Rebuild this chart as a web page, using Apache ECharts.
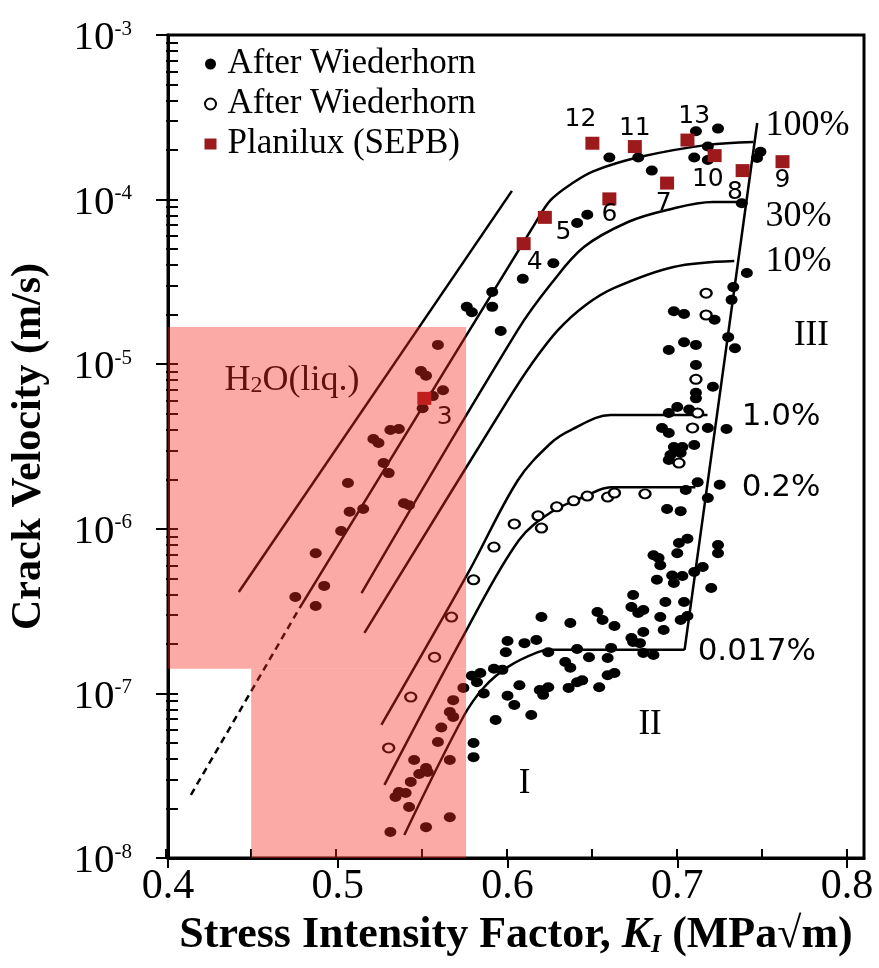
<!DOCTYPE html>
<html>
<head>
<meta charset="utf-8">
<script src="https://cdn.jsdelivr.net/npm/echarts@6/dist/echarts.min.js"></script>
<style>
html,body{margin:0;padding:0;background:#fff}
#chart{width:879px;height:968px}
</style>
</head>
<body>
<div id="chart"></div>
<script>
// crack velocity (m/s) vs K_I (MPa sqrt m)

// After Wiederhorn, filled dots
var filledDots = [
    [0.660,1.8e-4],[0.677,1.8e-4],[0.685,1.5e-4],[0.711,2.6e-4],[0.724,2.7e-4],[0.718,2.1e-4],[0.710,1.8e-4],[0.718,1.74e-4],
    [0.749,1.95e-4],[0.747,1.79e-4],[0.738,9.5e-5],[0.647,8.1e-5],[0.641,7.2e-5],[0.627,4.1e-5],[0.609,3.3e-5],[0.591,2.75e-5],
    [0.591,2.23e-5],[0.596,1.59e-5],[0.741,3.58e-5],[0.733,2.94e-5],[0.732,2.46e-5],[0.698,2.1e-5],[0.704,2.02e-5],[0.722,1.86e-5],
    [0.576,2.23e-5],[0.579,2.07e-5],
    [0.559,1.31e-5],[0.549,9.1e-6],[0.552,8.5e-6],[0.562,6.95e-6],[0.556,6.4e-6],[0.550,5.4e-6],[0.531,3.98e-6],[0.536,4.04e-6],
    [0.521,3.51e-6],[0.524,3.32e-6],[0.527,2.51e-6],[0.530,2.18e-6],[0.506,1.9e-6],[0.507,1.27e-6],[0.515,1.32e-6],[0.502,9.7e-7],
    [0.539,1.43e-6],[0.542,1.39e-6],[0.487,7.1e-7],[0.492,4.5e-7],[0.475,3.85e-7],[0.487,3.4e-7],
    [0.574,1.08e-7],[0.568,9.1e-8],[0.566,7.7e-8],[0.568,7.2e-8],[0.561,6.2e-8],[0.559,5.07e-8],[0.545,3.94e-8],[0.566,3.94e-8],
    [0.552,3.52e-8],[0.553,3.33e-8],[0.548,3.24e-8],[0.543,2.9e-8],[0.536,2.52e-8],[0.540,2.48e-8],[0.534,2.35e-8],[0.542,2.04e-8],
    [0.566,1.77e-8],[0.552,1.54e-8],[0.531,1.44e-8],
    [0.600,2.08e-7],[0.599,1.78e-7],[0.579,1.28e-7],[0.584,1.33e-7],[0.592,1.41e-7],[0.597,1.39e-7],[0.582,1.17e-7],[0.586,1.0e-7],
    [0.600,9.67e-8],[0.604,8.5e-8],[0.593,6.9e-8],[0.580,5.0e-8],[0.580,4.1e-8],[0.607,1.12e-7],[0.610,2.02e-7],[0.617,2.11e-7],
    [0.620,2.91e-7],[0.614,7.4e-8],[0.619,1.05e-7],[0.624,1.09e-7],[0.621,9.8e-8],[0.624,1.78e-7],[0.637,2.68e-7],[0.634,1.55e-7],
    [0.637,1.43e-7],[0.636,1.08e-7],[0.641,1.17e-7],[0.644,1.2e-7],[0.641,1.86e-7],[0.648,1.66e-7],[0.653,3.12e-7],[0.656,2.79e-7],
    [0.663,2.57e-7],[0.661,1.89e-7],[0.659,1.64e-7],[0.659,1.29e-7],[0.663,1.33e-7],[0.654,1.09e-7],[0.674,3.96e-7],[0.673,3.35e-7],
    [0.677,3.08e-7],[0.680,3.21e-7],[0.680,2.36e-7],[0.673,2.17e-7],[0.674,2.05e-7],[0.678,2.02e-7],[0.680,1.76e-7],[0.686,1.71e-7],
    [0.688,4.9e-7],[0.690,6.0e-7],[0.693,3.59e-7],[0.690,2.91e-7],[0.692,2.43e-7],[0.697,5.2e-7],[0.703,5.17e-7],[0.698,4.68e-7],
    [0.704,3.59e-7],[0.702,2.79e-7],[0.706,2.95e-7],[0.710,5.46e-7],[0.715,5.86e-7],[0.720,4.37e-7],
    [0.730,1.46e-5],[0.734,1.25e-5],[0.695,1.22e-5],[0.704,1.36e-5],[0.711,1.31e-5],[0.711,9.9e-6],[0.721,7.3e-6],[0.711,6.7e-6],
    [0.711,6.2e-6],[0.695,5.05e-6],[0.700,5.5e-6],[0.707,5.3e-6],[0.691,4.1e-6],[0.695,3.82e-6],[0.718,4.1e-6],[0.729,4.04e-6],
    [0.698,3.14e-6],[0.703,3.14e-6],[0.710,3.23e-6],[0.696,2.81e-6],[0.702,2.89e-6],[0.695,2.62e-6],[0.712,1.92e-6],[0.725,1.85e-6],
    [0.705,1.72e-6],[0.718,1.54e-6],[0.694,1.32e-6],[0.702,1.28e-6],[0.706,8.7e-7],[0.701,8.2e-7],[0.724,7.97e-7],[0.724,7.1e-7],
    [0.686,6.9e-7],[0.689,6.65e-7],[0.700,7.1e-7]
];

// After Wiederhorn, open circles
var openDots = [
    [0.717,1.99e-5],[0.717,2.7e-5],[0.711,8.1e-6],[0.712,5.05e-6],[0.709,4.1e-6],[0.701,2.51e-6],[0.604,1.07e-6],
    [0.592,7.75e-7],[0.580,4.9e-7],[0.567,2.91e-7],[0.557,1.66e-7],[0.543,9.5e-8],[0.530,4.66e-8],[0.618,1.2e-6],
    [0.620,1.01e-6],[0.629,1.36e-6],[0.639,1.48e-6],[0.647,1.58e-6],[0.659,1.56e-6],[0.663,1.65e-6],[0.681,1.63e-6]
];

// Planilux (SEPB) squares and their numbers
var planiluxPts = [
    [0.650,2.2e-4],[0.675,2.1e-4],[0.706,2.3e-4],[0.722,1.85e-4],[0.7385,1.5e-4],[0.762,1.7e-4],
    [0.694,1.26e-4],[0.660,1.01e-4],[0.622,7.8e-5],[0.6095,5.4e-5],[0.551,6.2e-6]
];
var planiluxNum = ['12','11','13','10','8','9','7','6','5','4','3'];
var planiluxNumPos = [
    [0.643,3.08e-4],[0.675,2.72e-4],[0.710,3.18e-4],[0.718,1.32e-4],[0.734,1.1e-4],[0.762,1.3e-4],
    [0.692,9.5e-5],[0.660,8.1e-5],[0.633,6.3e-5],[0.616,4.17e-5],[0.563,4.77e-6]
];

// curves
var waterLine = [[0.4417,4.13e-7],[0.6026,1.13e-4]];
var dashLine = [[0.4135,2.42e-8],[0.4775,3.3e-7]];
var rh100 = [[0.4775,3.3e-7],[0.6167,7.3e-5],[0.6255,9.95e-5],[0.6373,1.24e-4],[0.6508,1.49e-4],[0.6784,1.82e-4],[0.7178,2.15e-4],[0.7448,2.24e-4]];
var rh30 = [[0.514,4.07e-7],[0.606,1.61e-5],[0.626,3.11e-5],[0.645,5.15e-5],[0.671,7.31e-5],[0.694,8.65e-5],[0.721,9.67e-5],[0.739,9.67e-5]];
var rh10 = [[0.5157,2.33e-7],[0.6003,6.07e-6],[0.6138,9.9e-6],[0.6297,1.61e-5],[0.6461,2.29e-5],[0.6626,2.9e-5],[0.6978,3.9e-5],[0.7336,4.24e-5]];
var rh1 = [[0.5257,6.43e-8],[0.5768,5.39e-7],[0.6062,1.98e-6],[0.6256,3.32e-6],[0.6373,3.98e-6],[0.6608,4.91e-6],[0.7178,4.91e-6]];
var rh02 = [[0.5275,2.78e-8],[0.5768,2.53e-7],[0.6068,8.55e-7],[0.6256,1.26e-6],[0.6449,1.56e-6],[0.6608,1.79e-6],[0.7107,1.79e-6]];
var rh0017 = [[0.5392,1.38e-8],[0.5739,7.19e-8],[0.5862,1.09e-7],[0.6003,1.45e-7],[0.6179,1.78e-7],[0.6256,1.84e-7],[0.7043,1.84e-7]];
var stage3Line = [[0.7043,1.84e-7],[0.7471,2.92e-4]];

// text on the plot
var rhSerif = ['100%','30%','10%'];
var rhSerifPos = [[0.752,2.8e-4],[0.752,7.9e-5],[0.752,4.2e-5]];
var rhSans = ['1.0%','0.2%','0.017%'];
var rhSansPos = [[0.738,4.8e-6],[0.738,1.77e-6],[0.712,1.78e-7]];
var regionNames = ['III','II','I'];
var regionPos = [[0.779,1.49e-5],[0.684,6.4e-8],[0.610,2.82e-8]];
var waterTextPos = [0.473,8.0e-6];

// liquid water zone
var waterBoxX = [0.4, 0.449, 0.5756];
var waterBoxY = [1e-8, 1.41e-7, 1.68e-5];

// ticks
var xMajor = [0.4,0.5,0.6,0.7,0.8];
var xMinor = [0.4,0.45,0.5,0.55,0.6,0.65,0.7,0.75,0.8];
var yTickLogs = [];
for (var e = -8; e < -3; e++) {
    for (var k = 1; k <= 9; k++) {
        yTickLogs.push(Math.log10(k * Math.pow(10, e)));
    }
}
yTickLogs.push(-3);

var serif = 'Liberation Serif';
var sans = 'DejaVu Sans';

function curve(data, dashed) {
    return {
        type: 'line',
        data: data,
        symbol: 'none',
        smooth: dashed ? false : 0.35,
        silent: true,
        lineStyle: {color: '#000', width: 2.5, type: dashed ? [7, 5] : 'solid'},
        z: 2
    };
}

function textSeries(names, pos, label) {
    var data = [];
    for (var i = 0; i < names.length; i++) {
        data.push({name: names[i], value: pos[i]});
    }
    return {
        type: 'scatter',
        data: data,
        symbolSize: 0,
        silent: true,
        z: 4,
        itemStyle: {opacity: 1},
        label: Object.assign({show: true, formatter: '{b}', color: '#000'}, label)
    };
}

var myChart = echarts.init(document.getElementById('chart'));

var option = {
    animation: false,
    backgroundColor: '#fff',
    grid: [
        {left: 166, right: 15, top: 35, bottom: 110, show: true, borderColor: '#000', borderWidth: 3, backgroundColor: 'transparent'},
        {left: 166, right: 15, top: 35, bottom: 110}
    ],
    legend: {
        orient: 'vertical',
        left: 199,
        top: 41,
        itemWidth: 12,
        itemHeight: 11,
        itemGap: 4,
        textStyle: {fontFamily: serif, fontSize: 35, lineHeight: 36, color: '#000', padding: [0, 0, 0, 6]},
        data: ['After Wiederhorn', 'After Wiederhorn ', 'Planilux (SEPB)']
    },
    xAxis: [
        {
            type: 'value', gridIndex: 0, min: 0.4, max: 0.81,
            axisLine: {show: true, lineStyle: {color: '#000', width: 3}},
            axisTick: {show: true, customValues: xMajor, length: 10, lineStyle: {color: '#000', width: 2}},
            axisLabel: {
                customValues: xMajor, margin: 8, color: '#000', fontFamily: serif, fontSize: 42,
                formatter: function (v) { return v.toFixed(1); }
            },
            splitLine: {show: false},
            name: 'Stress Intensity Factor, {k|K}{ks|I} (MPa√m)',
            nameLocation: 'middle',
            nameGap: 56,
            nameTextStyle: {
                fontFamily: serif, fontWeight: 'bold', fontSize: 44, color: '#000',
                rich: {
                    k: {fontFamily: serif, fontWeight: 'bold', fontStyle: 'italic', fontSize: 44},
                    ks: {fontFamily: serif, fontWeight: 'bold', fontStyle: 'italic', fontSize: 26, lineHeight: 14, verticalAlign: 'bottom'}
                }
            }
        },
        {
            type: 'value', gridIndex: 1, min: 0.4, max: 0.81,
            axisLine: {show: false},
            axisTick: {show: true, inside: true, customValues: xMinor, length: 9, lineStyle: {color: '#000', width: 2}},
            axisLabel: {show: false},
            splitLine: {show: false}
        }
    ],
    yAxis: [
        {
            type: 'log', gridIndex: 0, logBase: 10, min: 1e-8, max: 1e-3,
            axisLine: {show: true, lineStyle: {color: '#000', width: 3}},
            axisTick: {show: true, length: 12, lineStyle: {color: '#000', width: 2}},
            axisLabel: {
                margin: 36,
                padding: [7, 0, 0, 0],
                formatter: function (v) {
                    return '{b|10}{s|' + Math.round(Math.log10(v)) + '}';
                },
                rich: {
                    b: {fontFamily: serif, fontSize: 41, lineHeight: 40, color: '#000'},
                    s: {fontFamily: serif, fontSize: 21, lineHeight: 16, verticalAlign: 'top', color: '#000'}
                }
            },
            splitLine: {show: false},
            name: 'Crack Velocity (m/s)',
            nameLocation: 'middle',
            nameGap: 118,
            nameTextStyle: {fontFamily: serif, fontWeight: 'bold', fontSize: 42, color: '#000'}
        },
        {
            type: 'value', gridIndex: 1, min: -8, max: -3,
            axisLine: {show: false},
            axisTick: {show: true, inside: true, customValues: yTickLogs, length: 12, lineStyle: {color: '#000', width: 2}},
            axisLabel: {show: false},
            splitLine: {show: false}
        }
    ],
    series: [
        // pink zone drawn on top, like a multiply layer
        {
            type: 'line',
            data: [],
            z: 10,
            silent: true,
            markArea: {
                silent: true,
                z: 10,
                itemStyle: {color: 'rgb(247,42,33)', opacity: 0.4},
                data: [
                    [{xAxis: waterBoxX[0], yAxis: waterBoxY[1]}, {xAxis: waterBoxX[2], yAxis: waterBoxY[2]}],
                    [{xAxis: waterBoxX[1], yAxis: waterBoxY[0]}, {xAxis: waterBoxX[2], yAxis: waterBoxY[1]}]
                ]
            }
        },
        curve(waterLine),
        curve(dashLine, true),
        curve(rh100),
        curve(rh30),
        curve(rh10),
        curve(rh1),
        curve(rh02),
        curve(rh0017),
        curve(stage3Line),
        {
            name: 'After Wiederhorn',
            type: 'scatter',
            data: filledDots,
            symbol: 'circle',
            symbolSize: [12, 10],
            itemStyle: {color: '#000', opacity: 1},
            z: 3
        },
        {
            name: 'After Wiederhorn ',
            type: 'scatter',
            data: openDots,
            symbol: 'circle',
            symbolSize: [11, 9],
            itemStyle: {color: '#fff', borderColor: '#000', borderWidth: 2.2, opacity: 1},
            z: 3
        },
        {
            name: 'Planilux (SEPB)',
            type: 'scatter',
            data: planiluxPts,
            symbol: 'rect',
            symbolSize: [14, 13],
            itemStyle: {color: '#9c1a1c', opacity: 1},
            z: 3
        },
        textSeries(planiluxNum, planiluxNumPos, {position: 'inside', fontFamily: sans, fontSize: 25}),
        textSeries(rhSerif, rhSerifPos, {position: 'right', distance: 0, fontFamily: serif, fontSize: 36}),
        textSeries(rhSans, rhSansPos, {position: 'right', distance: 0, fontFamily: sans, fontSize: 31}),
        textSeries(regionNames, regionPos, {position: 'inside', fontFamily: serif, fontSize: 35}),
        textSeries(['H2O'], [waterTextPos], {
            position: 'inside',
            formatter: 'H{s|2}O(liq.)',
            fontFamily: serif, fontSize: 36, lineHeight: 36,
            rich: {s: {fontFamily: serif, fontSize: 24, lineHeight: 4, verticalAlign: 'bottom', color: '#000'}}
        })
    ]
};

myChart.setOption(option);
</script>
</body>
</html>
